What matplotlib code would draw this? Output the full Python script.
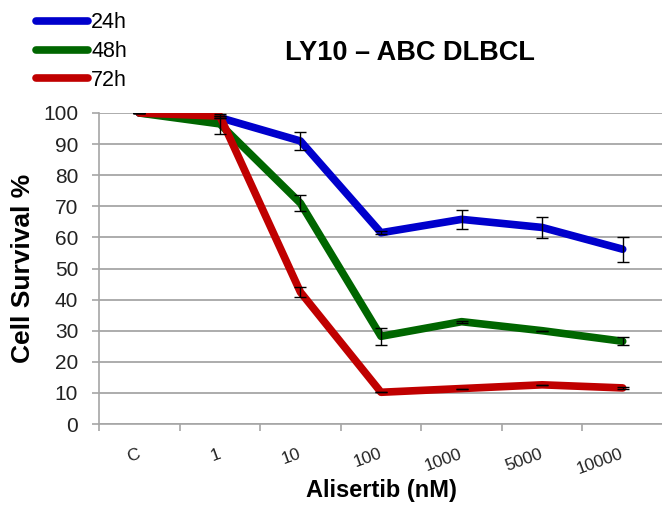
import matplotlib
matplotlib.use("Agg")
import matplotlib.pyplot as plt
from matplotlib.ticker import FixedLocator, MultipleLocator
import numpy as np

plt.rcParams['font.family'] = ['Liberation Sans', 'DejaVu Sans']

# Alisertib dose categories
doses = ["C", "1", "10", "100", "1000", "5000", "10000"]

# Cell survival (%) and error (SD) per time point
surv_24h = [100, 98.5, 91.0, 61.5, 65.8, 63.2, 56.2]
err_24h = [0, 0, 2.8, 0.4, 3.0, 3.5, 4.0]
surv_48h = [100, 96.5, 71.0, 28.2, 32.9, 30.0, 26.6]
err_48h = [0, 3.2, 2.5, 2.7, 0.3, 0.0, 1.3]
surv_72h = [100, 99.0, 42.4, 10.2, 11.4, 12.6, 11.6]
err_72h = [0, 0, 1.6, 0.0, 0.0, 0.0, 0.4]

series = [
    ("24h", surv_24h, err_24h, "#0000cc"),
    ("48h", surv_48h, err_48h, "#006600"),
    ("72h", surv_72h, err_72h, "#c00000"),
]

fig = plt.figure(figsize=(6.62, 5.05), dpi=100)
ax = fig.add_axes([99 / 662, 1 - 424 / 505, 564 / 662, 311 / 505])

x = np.arange(len(doses))
handles = []
for label, vals, errs, color in series:
    line, = ax.plot(x, vals, color=color, lw=5.5, solid_capstyle='round',
                    solid_joinstyle='round', zorder=3, label=label)
    handles.append(line)
    ax.errorbar(x, vals, yerr=errs, fmt='none', ecolor='black',
                elinewidth=1.0, capsize=4.5, capthick=1.0, zorder=4)

ax.set_xlim(-0.5, len(doses) - 0.5)
ax.set_ylim(0, 100)
ax.yaxis.set_major_locator(MultipleLocator(10))
ax.grid(axis='y', color='#a6a6a6', lw=1.3, zorder=0)
ax.set_axisbelow(True)

for side in ('top', 'right'):
    ax.spines[side].set_visible(False)
for side in ('left', 'bottom'):
    ax.spines[side].set_color('#a6a6a6')
    ax.spines[side].set_linewidth(1.2)

# category boundaries carry the tick marks, labels sit at category centres
ax.set_xticks(x)
ax.set_xticklabels(doses, rotation=20, ha='right', va='center',
                   rotation_mode='anchor', fontsize=12.6)
ax.tick_params(axis='x', which='major', length=0, pad=21, colors='#222222')
ax.xaxis.set_minor_locator(FixedLocator(np.arange(-0.5, len(doses), 1.0)))
ax.tick_params(axis='x', which='minor', length=5, width=1.2, color='#a6a6a6')
ax.tick_params(axis='y', length=5, width=1.2, color='#a6a6a6', labelsize=15,
               labelcolor='#222222', pad=10)

ax.set_xlabel("Alisertib (nM)", fontsize=17, fontweight='bold', va='top')
ax.xaxis.set_label_coords(0.5, (424 - 479) / 311)
ax.set_ylabel("Cell Survival %", fontsize=19, fontweight='bold')
ax.yaxis.set_label_coords((35 - 99) / 564, 0.5)

fig.text(410 / 662, 1 - 53 / 505, "LY10 \u2013 ABC DLBCL", fontsize=19.5,
         fontweight='bold', ha='center', va='center')

leg = fig.legend(handles=handles, loc='upper left',
                 bbox_to_anchor=(32 / 662, 1 - 8 / 505),
                 frameon=False, fontsize=15.5, handlelength=2.4,
                 handletextpad=0.15, labelspacing=0.36, borderpad=0.2,
                 borderaxespad=0)
for h in leg.get_lines():
    h.set_solid_capstyle('round')

fig.savefig("out.png", dpi=100)
